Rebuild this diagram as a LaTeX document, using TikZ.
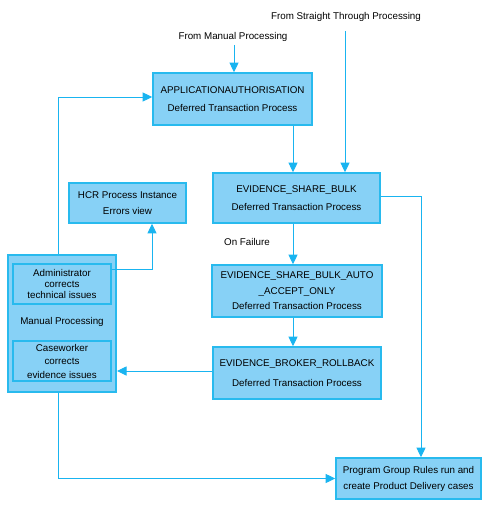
\documentclass[tikz,border=0pt]{standalone}
\usepackage{fontspec}
\setmainfont{Liberation Sans}
\usetikzlibrary{arrows.meta}
\definecolor{boxfill}{RGB}{135,209,246}
\definecolor{boxline}{RGB}{40,186,238}
\definecolor{conn}{RGB}{25,180,240}
\tikzset{
  procbox/.style={draw=boxline, line width=1.6pt, fill=boxfill, rectangle, inner sep=0pt, align=center, text=black},
  lbl/.style={inner sep=0pt, text=black, font=\fontsize{9.8}{11}\selectfont},
  arr/.style={draw=conn, line width=0.9pt, -{Triangle[length=9.5pt,width=9pt]}},
}
\begin{document}
\begin{tikzpicture}[x=1pt,y=-1pt]
\useasboundingbox (0,0) rectangle (486,508);
% labels
\node[lbl] (fmp) at (233,37) {From Manual Processing};
\node[lbl] (stp) at (346,17) {From Straight Through Processing};
\node[lbl] (onf) at (247,242) {On Failure};
% boxes
\node[procbox, minimum width=159pt, minimum height=52pt, font=\fontsize{9.8}{18}\selectfont] (app) at (232.5,99) {APPLICATIONAUTHORISATION\\Deferred Transaction Process};
\node[procbox, minimum width=167pt, minimum height=50pt, font=\fontsize{9.8}{18}\selectfont] (esb) at (296.5,198) {EVIDENCE\_SHARE\_BULK\\Deferred Transaction Process};
\node[procbox, minimum width=170pt, minimum height=52pt, font=\fontsize{9.8}{15.5}\selectfont] (esba) at (297,291) {EVIDENCE\_SHARE\_BULK\_AUTO\\\_ACCEPT\_ONLY\\Deferred Transaction Process};
\node[procbox, minimum width=168pt, minimum height=52pt, font=\fontsize{9.8}{20}\selectfont] (ebr) at (297,373) {EVIDENCE\_BROKER\_ROLLBACK\\Deferred Transaction Process};
\node[procbox, minimum width=117pt, minimum height=40pt, font=\fontsize{9.8}{16}\selectfont] (hcr) at (127.5,203) {HCR Process Instance\\Errors view};
\node[procbox, minimum width=145pt, minimum height=41pt, font=\fontsize{9.8}{16}\selectfont] (prog) at (408.5,478.5) {Program Group Rules run and\\create Product Delivery cases};
\node[procbox, line width=2pt, minimum width=108pt, minimum height=137pt] (man) at (62,323.5) {};
\node[procbox, line width=1.2pt, minimum width=98pt, minimum height=40pt, font=\fontsize{9.8}{11}\selectfont] (adm) at (62,284) {Administrator\\corrects\\technical issues};
\node[procbox, line width=1.2pt, minimum width=98pt, minimum height=40pt, font=\fontsize{9.8}{13.5}\selectfont] (cw) at (62,361) {Caseworker\\corrects\\evidence issues};
\node[lbl] (mpl) at (62,322) {Manual Processing};
% free ends of connectors
\coordinate (fmps) at (234,45);
\coordinate (stps) at (345,31);
% connectors
\draw[arr] (fmps) -- (fmps |- app.north);
\draw[arr] (stps) -- (stps |- esb.north);
\draw[arr] ([xshift=60.5pt]app.south) -- ([xshift=60.5pt]app.south |- esb.north);
\draw[arr] ([xshift=-3.5pt]esb.south) -- ([xshift=-3.5pt]esb.south |- esba.north);
\draw[arr] ([xshift=-4pt]esba.south) -- ([xshift=-4pt]esba.south |- ebr.north);
\draw[arr] ([yshift=2pt]esb.east) -| ([xshift=12.5pt]prog.north);
\draw[arr] ([yshift=2pt]ebr.west) -- ([yshift=2pt]ebr.west -| man.east);
\draw[arr] ([xshift=-4pt]man.north) |- ([yshift=2pt]app.west);
\draw[arr] ([yshift=15pt]adm.east) -| ([xshift=24.5pt]hcr.south);
\draw[arr] ([xshift=-4pt]man.south) |- (prog.west);
\end{tikzpicture}
\end{document}
